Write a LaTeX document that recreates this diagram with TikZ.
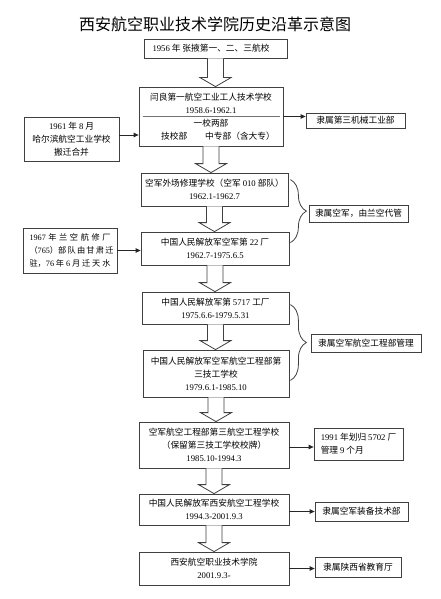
\documentclass[tikz,border=0pt]{standalone}
\usepackage{fontspec}
\setmainfont{Noto Sans CJK SC}
\newfontfamily\lat{Liberation Serif}
\usetikzlibrary{calc,arrows.meta,decorations.pathreplacing}
\newcommand\dg[1]{{\lat #1}}
\newcommand\blockarr[2]{%
  \draw[blk] ($(#1.south)+(-8,0)$) -- ($(#1.south |- #2.north)+(-8,-9)$)
    -- ($(#1.south |- #2.north)+(-15.5,-9)$) -- (#1.south |- #2.north)
    -- ($(#1.south |- #2.north)+(15.5,-9)$) -- ($(#1.south |- #2.north)+(8,-9)$)
    -- ($(#1.south)+(8,0)$);}
\tikzset{
  box/.style={draw=black!75, line width=0.8pt, inner sep=0pt, align=center,
    font=\fontsize{8.7}{13}\selectfont, text=black},
  blk/.style={draw=black!75, line width=0.8pt, fill=white},
  conn/.style={draw=black!85, line width=0.8pt, -{Triangle[length=5pt,width=4.5pt]}},
  brc/.style={draw=black!75, line width=0.8pt, decorate, decoration={brace, amplitude=16pt}},
}
\begin{document}
\begin{tikzpicture}[x=1pt,y=-1pt]
\fill[white] (0,0) rectangle (440,599);
\useasboundingbox (0,0) rectangle (440,599);

\node[font=\fontsize{16}{18}\selectfont] (title) at (215,24) {西安航空职业技术学院历史沿革示意图};

% main column
\node[box, minimum width=143, minimum height=19] (b1) at (215.5,48.5)
  {\dg{1956} 年 张掖第一、二、三航校\hspace*{9pt}};
\node[box, minimum width=144, minimum height=59] (b2) at (211,116.5)
  {闫良第一航空工业工人技术学校\\ \dg{1958.6-1962.1}\\ 一校两部\\ \hspace*{14pt}技校部\hspace{18pt}中专部（含大专）};
\draw[black!55, line width=1.4pt] ($(b2.north west)+(4,30)$) -- ($(b2.north east)+(-3,30)$);
\node[box, minimum width=147, minimum height=33] (b3) at (214.5,189.5)
  {空军外场修理学校（空军 \dg{010} 部队）\\ \dg{1962.1-1962.7}};
\node[box, minimum width=148, minimum height=33] (b4) at (215,248.5)
  {中国人民解放军空军第 \dg{22} 厂\\ \dg{1962.7-1975.6.5}};
\node[box, minimum width=147, minimum height=32] (b5) at (215.5,308)
  {中国人民解放军第 \dg{5717} 工厂\\ \dg{1975.6.6-1979.5.31}};
\node[box, minimum width=146, minimum height=47] (b6) at (216,373.5)
  {中国人民解放军空军航空工程部第\\ 三技工学校\\ \dg{1979.6.1-1985.10}};
\node[box, minimum width=150, minimum height=46] (b7) at (214,445)
  {空军航空工程部第三航空工程学校\\ （保留第三技工学校校牌）\\ \dg{1985.10-1994.3}};
\node[box, minimum width=150, minimum height=31] (b8) at (214,509.5)
  {中国人民解放军西安航空工程学校\\ \dg{1994.3-2001.9.3}};
\node[box, minimum width=150, minimum height=33] (b9) at (214,568.5)
  {西安航空职业技术学院\\ \dg{2001.9.3-}};

% left boxes
\node[box, minimum width=95, minimum height=44] (lb1) at (71.5,139)
  {\dg{1961} 年 \dg{8} 月\\ 哈尔滨航空工业学校\\ 搬迁合并};
\node[box, minimum width=94, minimum height=45, font=\fontsize{8.2}{13}\selectfont] (lb2) at (70,250.5)
  {\makebox[81pt][s]{\dg{1967} 年 兰 空 航 修 厂}\\
   \makebox[81pt][s]{（\dg{765}）部 队 由 甘 肃 迁}\\
   \makebox[81pt][s]{驻，\dg{76} 年 \dg{6} 月 迁 天 水}};

% right boxes
\node[box, minimum width=99, minimum height=15] (rb1) at (355.5,120.5) {隶属第三机械工业部};
\node[box, minimum width=99, minimum height=17] (rb2) at (358.5,213.5) {隶属空军，由兰空代管};
\node[box, minimum width=110, minimum height=18] (rb3) at (366,343) {隶属空军航空工程部管理};
\node[box, minimum width=89, minimum height=32, align=left] (rb4) at (358.5,444)
  {\dg{1991} 年划归 \dg{5702} 厂\\ 管理 \dg{9} 个月};
\node[box, minimum width=93, minimum height=19] (rb5) at (361.5,511.5) {隶属空军装备技术部};
\node[box, minimum width=86, minimum height=20] (rb6) at (358,567) {隶属陕西省教育厅};

% block arrows
\blockarr{b1}{b2}
\blockarr{b2}{b3}
\blockarr{b3}{b4}
\blockarr{b4}{b5}
\blockarr{b5}{b6}
\blockarr{b6}{b7}
\blockarr{b7}{b8}
\blockarr{b8}{b9}

% thin arrows
\draw[conn] (b2.east) -- (b2.east -| rb1.west);
\draw[conn] ($(lb1.east)+(0,-4)$) -- ($(lb1.east -| b2.west)+(0,-4)$);
\draw[conn] (lb2.east) -- (lb2.east -| b4.west);
\draw[conn] ($(b7.east)+(0,2)$) -- ($(b7.east -| rb4.west)+(0,2)$);
\draw[conn] (rb5.west -| b8.east) -- (rb5.west);
\draw[conn] (b9.east) -- (b9.east -| rb6.west);

% braces
\draw[brc] ($(b3.north east)+(2,7)$) -- ($(b4.north east)+(1,11)$);
\draw[brc] ($(b5.north east)+(1,13)$) -- ($(b6.south east)+(1,-17)$);
\end{tikzpicture}
\end{document}
